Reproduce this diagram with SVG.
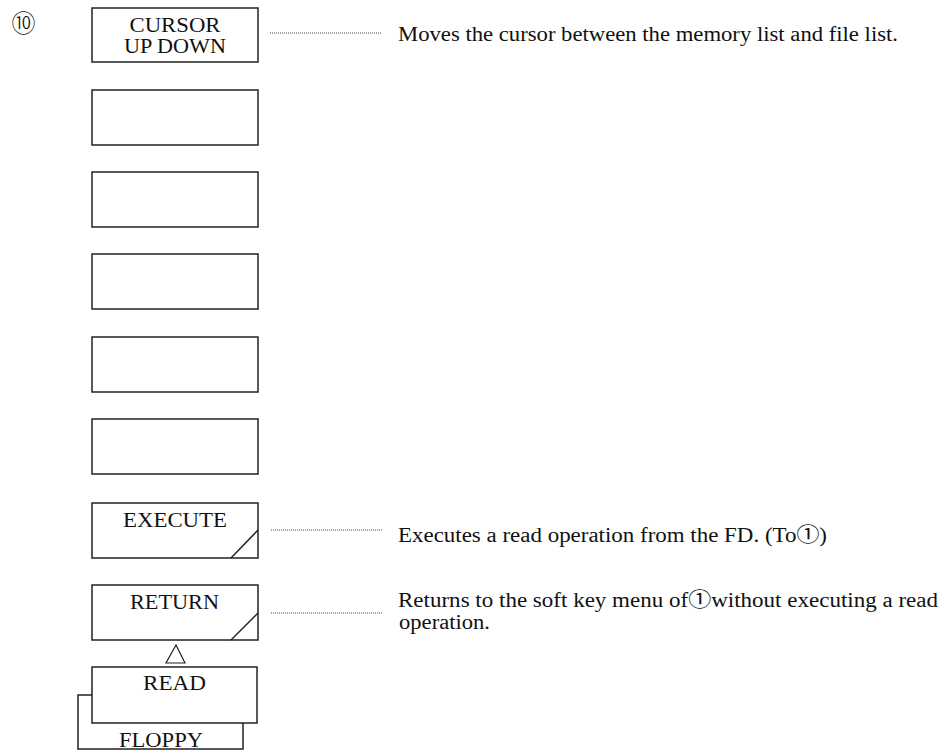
<svg xmlns="http://www.w3.org/2000/svg" width="944" height="751" viewBox="0 0 944 751">
<style>
.box{fill:#fff;stroke:#222;stroke-width:1.5}
.t{font-family:"Liberation Serif","Noto Sans CJK JP",serif;font-size:20.5px;fill:#111}
.k{font-family:"Liberation Serif",serif;font-size:21px;fill:#111;text-anchor:middle}
.lead{stroke:#444;stroke-width:1;stroke-dasharray:1 1}
.ln{stroke:#222;stroke-width:1.5;fill:none}
</style>
<rect width="944" height="751" fill="#fff"/>
<text x="23.5" y="32" text-anchor="middle" style="font-family:'Noto Sans CJK JP',sans-serif;font-size:24px;font-weight:300;fill:#111">⑩</text>
<g id="n1"><rect class="box" x="92" y="8" width="166" height="54"/><text class="k" x="175" y="32" textLength="91" lengthAdjust="spacingAndGlyphs">CURSOR</text><text class="k" x="175" y="53" textLength="102" lengthAdjust="spacingAndGlyphs">UP DOWN</text></g>
<g id="n2"><rect class="box" x="92" y="90" width="166" height="55"/></g>
<g id="n3"><rect class="box" x="92" y="172" width="166" height="55"/></g>
<g id="n4"><rect class="box" x="92" y="254" width="166" height="55"/></g>
<g id="n5"><rect class="box" x="92" y="337" width="166" height="55"/></g>
<g id="n6"><rect class="box" x="92" y="419" width="166" height="55"/></g>
<g id="n7"><rect class="box" x="92" y="503" width="166" height="55"/><path class="ln" d="M231 558L258 530"/><text class="k" x="175" y="527" textLength="104" lengthAdjust="spacingAndGlyphs">EXECUTE</text></g>
<g id="n8"><rect class="box" x="92" y="585" width="166" height="55"/><path class="ln" d="M231 640L258 613"/><text class="k" x="174.5" y="609" textLength="89" lengthAdjust="spacingAndGlyphs">RETURN</text></g>
<g id="n9"><rect class="box" x="78" y="695" width="165" height="54"/><rect class="box" x="92" y="667" width="165" height="56"/><text class="k" x="174.5" y="690" textLength="63" lengthAdjust="spacingAndGlyphs">READ</text><text class="k" x="161" y="746.5" textLength="84" lengthAdjust="spacingAndGlyphs">FLOPPY</text></g>
<g id="connectors">
<path d="M176 645L166 663H185Z" fill="#fff" stroke="#222" stroke-width="1.2"/>
<path class="lead" d="M270 33H381M271 530H382M271 613H382"/>
</g>
<g id="notes">
<text class="t" x="398" y="41" textLength="500" lengthAdjust="spacingAndGlyphs">Moves the cursor between the memory list and file list.</text>
<text class="t" x="398" y="541.5" textLength="429" lengthAdjust="spacingAndGlyphs">Executes a read operation from the FD. (To①)</text>
<text class="t" x="398" y="607" textLength="540" lengthAdjust="spacingAndGlyphs">Returns to the soft key menu of①without executing a read</text>
<text class="t" x="399" y="629" textLength="91" lengthAdjust="spacingAndGlyphs">operation.</text>
</g>
</svg>
